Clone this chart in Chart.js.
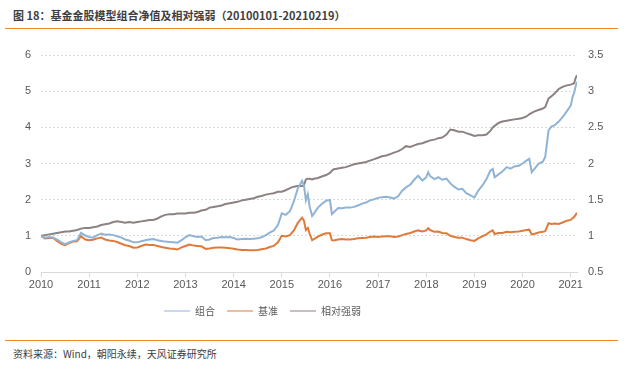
<!DOCTYPE html>
<html>
<head>
<meta charset="utf-8">
<script src="https://cdn.jsdelivr.net/npm/chart.js@4.4.0/dist/chart.umd.min.js"></script>
<style>
  body { margin: 0; background: #fff; font-family: "Noto Sans CJK SC", sans-serif; }
  #wrap { position: relative; width: 631px; height: 369px; }
  #title { position: absolute; left: 13px; top: 6px; font-size: 11px; line-height: 18px; font-weight: bold; color: #3f3f3f; white-space: nowrap; }
  .rule { position: absolute; left: 5px; width: 613px; height: 1px; background: #f08a24; }
  #source { position: absolute; left: 13px; top: 346px; font-size: 10px; line-height: 16px; color: #404040; white-space: nowrap; }
  #chartBox { position: absolute; left: 0; top: 30px; }
</style>
</head>
<body>
<div id="wrap">
  <div id="title">图 18：基金金股模型组合净值及相对强弱（20100101-20210219）</div>
  <div class="rule" style="top:28px"></div>
  <canvas id="chartBox" width="631" height="300"></canvas>
  <div class="rule" style="top:340px"></div>
  <div id="source">资料来源：Wind，朝阳永续，天风证券研究所</div>
</div>
<script>
// x positions as decimal years
const dates = [
  2010.00, 2010.08, 2010.17, 2010.25, 2010.33, 2010.42, 2010.50, 2010.58, 2010.67, 2010.75, 2010.83, 2010.92,
  2011.00, 2011.08, 2011.17, 2011.25, 2011.33, 2011.42, 2011.50, 2011.58, 2011.67, 2011.75, 2011.83, 2011.92,
  2012.00, 2012.08, 2012.17, 2012.25, 2012.33, 2012.42, 2012.50, 2012.58, 2012.67, 2012.75, 2012.83, 2012.92,
  2013.00, 2013.08, 2013.17, 2013.25, 2013.33, 2013.42, 2013.50, 2013.58, 2013.67, 2013.75, 2013.83, 2013.92,
  2014.00, 2014.08, 2014.17, 2014.25, 2014.33, 2014.42, 2014.50, 2014.58, 2014.67, 2014.75, 2014.83, 2014.92,
  2015.00, 2015.08, 2015.17, 2015.25, 2015.33, 2015.42, 2015.46, 2015.50, 2015.54, 2015.58, 2015.63, 2015.67, 2015.75, 2015.83, 2015.92,
  2016.00, 2016.04, 2016.08, 2016.17, 2016.25, 2016.33, 2016.42, 2016.50, 2016.58, 2016.67, 2016.75, 2016.83, 2016.92,
  2017.00, 2017.08, 2017.17, 2017.25, 2017.33, 2017.42, 2017.50, 2017.58, 2017.67, 2017.75, 2017.83, 2017.92,
  2018.00, 2018.04, 2018.08, 2018.17, 2018.25, 2018.33, 2018.42, 2018.50, 2018.58, 2018.67, 2018.75, 2018.83, 2018.92,
  2019.00, 2019.08, 2019.17, 2019.25, 2019.33, 2019.38, 2019.42, 2019.50, 2019.58, 2019.67, 2019.75, 2019.83, 2019.92,
  2020.00, 2020.08, 2020.14, 2020.19, 2020.25, 2020.33, 2020.42, 2020.47, 2020.54, 2020.60, 2020.67, 2020.75, 2020.83, 2020.92,
  2021.00, 2021.04, 2021.07, 2021.10, 2021.13,
];

// 组合 (left axis)
const portfolio = [
  1.00, 0.95, 0.97, 0.95, 0.90, 0.82, 0.77, 0.82, 0.86, 0.88, 1.08, 1.01,
  0.97, 0.95, 1.02, 1.06, 1.03, 1.04, 1.02, 0.99, 0.95, 0.90, 0.87, 0.82,
  0.82, 0.85, 0.88, 0.90, 0.91, 0.88, 0.86, 0.84, 0.83, 0.82, 0.81, 0.88,
  0.96, 1.02, 0.99, 0.97, 0.98, 0.88, 0.90, 0.94, 0.95, 0.97, 0.96, 0.97,
  0.94, 0.90, 0.91, 0.92, 0.91, 0.92, 0.93, 0.96, 1.02, 1.09, 1.14, 1.30,
  1.62, 1.58, 1.68, 1.95, 2.30, 2.52, 2.40, 1.98, 2.15, 1.80, 1.55, 1.62, 1.78, 1.88, 1.97,
  1.99, 1.60, 1.65, 1.77, 1.76, 1.78, 1.78, 1.80, 1.84, 1.89, 1.92, 1.98, 2.01,
  2.05, 2.07, 2.08, 2.06, 2.03, 2.10, 2.25, 2.34, 2.42, 2.55, 2.66, 2.53,
  2.62, 2.76, 2.65, 2.57, 2.62, 2.55, 2.58, 2.45, 2.36, 2.28, 2.30, 2.18, 2.12,
  2.06, 2.25, 2.40, 2.57, 2.80, 2.85, 2.62, 2.70, 2.78, 2.90, 2.86, 2.92, 2.94,
  3.00, 3.08, 3.13, 2.76, 2.86, 2.99, 3.05, 3.18, 3.92, 4.02, 4.06, 4.16, 4.28, 4.45,
  4.60, 4.85, 4.95, 5.13, 5.26,
];

// 基准 (left axis)
const benchmark = [
  1.00, 0.93, 0.94, 0.95, 0.86, 0.78, 0.74, 0.80, 0.84, 0.85, 0.99, 0.90,
  0.88, 0.89, 0.93, 0.95, 0.90, 0.87, 0.86, 0.83, 0.78, 0.74, 0.72, 0.67,
  0.68, 0.72, 0.76, 0.75, 0.75, 0.72, 0.69, 0.67, 0.65, 0.64, 0.62, 0.68,
  0.72, 0.76, 0.73, 0.72, 0.71, 0.64, 0.65, 0.67, 0.68, 0.68, 0.67, 0.66,
  0.64, 0.62, 0.61, 0.61, 0.60, 0.60, 0.61, 0.63, 0.65, 0.69, 0.72, 0.82,
  1.00, 0.98, 1.02, 1.15, 1.35, 1.50, 1.42, 1.16, 1.22, 1.05, 0.88, 0.91, 0.98, 1.03, 1.07,
  1.07, 0.88, 0.87, 0.90, 0.91, 0.90, 0.90, 0.91, 0.93, 0.94, 0.95, 0.97, 0.98,
  0.97, 0.98, 0.99, 0.99, 0.97, 0.98, 1.02, 1.05, 1.08, 1.12, 1.15, 1.12,
  1.15, 1.21, 1.16, 1.11, 1.12, 1.08, 1.07, 1.00, 0.97, 0.95, 0.95, 0.91, 0.88,
  0.86, 0.93, 0.99, 1.04, 1.12, 1.15, 1.05, 1.08, 1.08, 1.11, 1.10, 1.11, 1.12,
  1.14, 1.16, 1.17, 1.04, 1.06, 1.09, 1.11, 1.13, 1.35, 1.33, 1.34, 1.33, 1.37, 1.42,
  1.44, 1.49, 1.52, 1.58, 1.64,
];

// 相对强弱 (right axis)
const relative = [
  1.00, 1.01, 1.02, 1.03, 1.04, 1.05, 1.06, 1.06, 1.07, 1.08, 1.10, 1.11,
  1.11, 1.12, 1.13, 1.15, 1.16, 1.17, 1.19, 1.20, 1.19, 1.18, 1.19, 1.18,
  1.19, 1.20, 1.21, 1.22, 1.22, 1.24, 1.27, 1.29, 1.30, 1.30, 1.31, 1.31,
  1.31, 1.32, 1.32, 1.33, 1.35, 1.36, 1.39, 1.40, 1.41, 1.42, 1.44, 1.45,
  1.46, 1.47, 1.49, 1.50, 1.51, 1.52, 1.54, 1.55, 1.57, 1.58, 1.59, 1.61,
  1.61, 1.63, 1.66, 1.68, 1.69, 1.69, 1.70, 1.78, 1.79, 1.79, 1.78, 1.79, 1.80, 1.82, 1.84,
  1.87, 1.90, 1.92, 1.93, 1.94, 1.95, 1.97, 1.99, 2.00, 2.01, 2.02, 2.04, 2.06,
  2.08, 2.10, 2.11, 2.13, 2.15, 2.17, 2.20, 2.24, 2.23, 2.25, 2.27, 2.28,
  2.30, 2.31, 2.32, 2.33, 2.35, 2.36, 2.40, 2.47, 2.46, 2.44, 2.44, 2.42, 2.40,
  2.38, 2.39, 2.39, 2.40, 2.45, 2.50, 2.52, 2.56, 2.58, 2.59, 2.60, 2.61, 2.62,
  2.63, 2.65, 2.68, 2.70, 2.72, 2.74, 2.76, 2.78, 2.90, 2.93, 2.97, 3.03, 3.06, 3.08,
  3.09, 3.10, 3.11, 3.18, 3.22,
];

const leftTicks = [0, 1, 2, 3, 4, 5, 6];
const rightTicks = [0.5, 1, 1.5, 2, 2.5, 3, 3.5];
const yearTicks = [2010, 2011, 2012, 2013, 2014, 2015, 2016, 2017, 2018, 2019, 2020, 2021];

const tickColor = "#595959";
const gridColor = "#d9d9d9";

function toPoints(values) {
  return values.map((v, i) => ({ x: dates[i], y: v }));
}

// legend sits left of centre in the original
const shiftLegend = {
  id: "shiftLegend",
  afterLayout(chart) {
    chart.legend.left -= 53;
    chart.legend.right -= 53;
  },
};

const ctx = document.getElementById("chartBox").getContext("2d");
new Chart(ctx, {
  type: "line",
  data: {
    datasets: [
      {
        label: "组合",
        data: toPoints(portfolio),
        yAxisID: "y",
        borderColor: "#8fb4d6",
        backgroundColor: "#8fb4d6",
      },
      {
        label: "基准",
        data: toPoints(benchmark),
        yAxisID: "y",
        borderColor: "#e07a3b",
        backgroundColor: "#e07a3b",
      },
      {
        label: "相对强弱",
        data: toPoints(relative),
        yAxisID: "y1",
        borderColor: "#8d8181",
        backgroundColor: "#8d8181",
      },
    ],
  },
  options: {
    responsive: false,
    animation: false,
    layout: { padding: { top: 25, left: 0, right: 0, bottom: 4 } },
    elements: {
      point: { radius: 0 },
      line: { borderWidth: 2, tension: 0 },
    },
    scales: {
      x: {
        type: "linear",
        min: 2010,
        max: 2021.13,
        afterBuildTicks: (scale) => {
          scale.ticks = yearTicks.map((v) => ({ value: v }));
        },
        afterFit: (scale) => {
          scale.height = 22;
        },
        ticks: {
          color: tickColor,
          padding: 1,
          maxRotation: 0,
          font: { family: "Liberation Sans", size: 11 },
          callback: (v) => String(v),
        },
        grid: { display: true, drawOnChartArea: false, drawTicks: true, tickLength: 5, color: gridColor },
        border: { display: true, color: gridColor, width: 1 },
      },
      y: {
        position: "left",
        min: 0,
        max: 6,
        afterBuildTicks: (scale) => {
          scale.ticks = leftTicks.map((v) => ({ value: v }));
        },
        afterFit: (scale) => {
          scale.width = 41;
        },
        ticks: {
          color: tickColor,
          padding: 10,
          font: { family: "Liberation Sans", size: 11 },
          callback: (v) => String(v),
        },
        grid: { color: gridColor, drawTicks: false },
        border: { display: false, dash: [2, 2] },
      },
      y1: {
        position: "right",
        min: 0.5,
        max: 3.5,
        afterBuildTicks: (scale) => {
          scale.ticks = rightTicks.map((v) => ({ value: v }));
        },
        afterFit: (scale) => {
          scale.width = 54;
        },
        ticks: {
          color: tickColor,
          padding: 11,
          font: { family: "Liberation Sans", size: 11 },
          callback: (v) => String(v),
        },
        grid: { drawOnChartArea: false, drawTicks: false },
        border: { display: false },
      },
    },
    plugins: {
      legend: {
        position: "bottom",
        labels: {
          usePointStyle: true,
          pointStyle: "line",
          pointStyleWidth: 26,
          padding: 12,
          color: tickColor,
          font: { family: "Noto Sans CJK SC", size: 10 },
        },
      },
      tooltip: { enabled: false },
    },
  },
  plugins: [shiftLegend],
});
</script>
</body>
</html>
